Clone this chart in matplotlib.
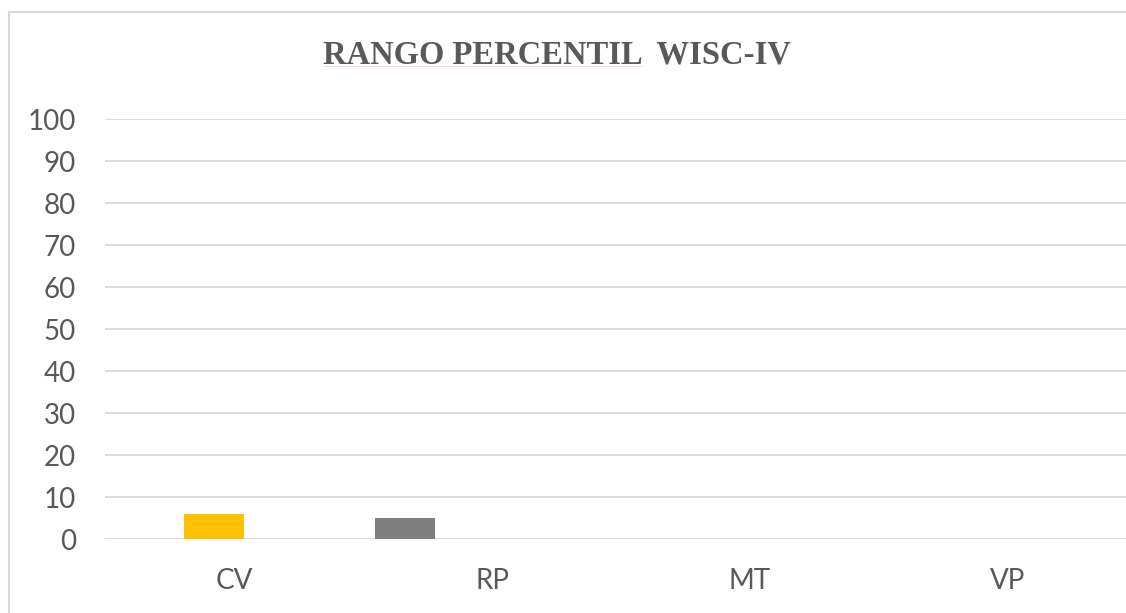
import numpy as np
import matplotlib.pyplot as plt
from matplotlib.patches import Rectangle
from matplotlib.lines import Line2D

categorias = ['CV', 'RP', 'MT', 'VP']
valores = [6, 5, 0.1, 0]
colores = ['#FFC000', '#7F7F7F', '#4472C4', '#5B9BD5']
titulo = 'RANGO PERCENTIL  WISC-IV'

fig = plt.figure(figsize=(11.26, 6.13), dpi=100)

# marco del grafico (cortado a la derecha y abajo)
fig.patches.append(Rectangle((9 / 1126, -0.1), 1.2, 1.1 - 12 / 613,
                             transform=fig.transFigure, fill=False,
                             edgecolor='#D9D9D9', linewidth=1.5))

ax = fig.add_axes([105 / 1126, 1 - 539 / 613, 1032 / 1126, 420 / 613])

x = np.arange(len(categorias))
desplaz = -0.078 - 0.258 * x
ax.bar(x + desplaz, valores, width=0.233, color=colores, zorder=3)

ax.set_xlim(-0.5, 3.5)
ax.set_ylim(0, 100)
ax.set_yticks(range(0, 101, 10))
ax.set_xticks(x)
ax.set_xticklabels(categorias)
ax.grid(axis='y', color='#D9D9D9', linewidth=1.3, zorder=0)
for s in ax.spines.values():
    s.set_visible(False)
ax.tick_params(axis='both', length=0, labelsize=20, labelcolor='#595959')
ax.tick_params(axis='y', pad=21)
ax.tick_params(axis='x', pad=21)
for t in ax.get_xticklabels() + ax.get_yticklabels():
    t.set_fontfamily('Lato')

fig.text(557 / 1126, 1 - 64 / 613, titulo, ha='center', va='baseline',
         fontsize=23.5, fontweight='bold', color='#595959',
         family='Liberation Serif')
# subrayado tenue del corrector bajo "RANGO PERCENTIL"
fig.lines.append(Line2D([323 / 1126, 643 / 1126], [1 - 65.5 / 613] * 2,
                        transform=fig.transFigure, color='#F8D6D6',
                        linewidth=0.6))

fig.savefig('out.png', dpi=100)
